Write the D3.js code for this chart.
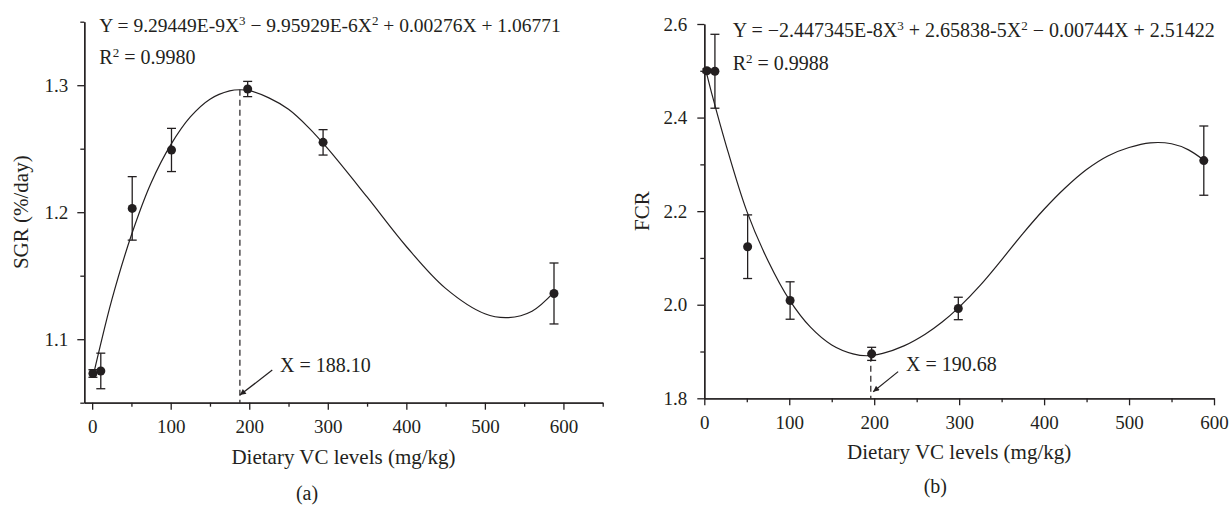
<!DOCTYPE html>
<html lang="en">
<head>
<meta charset="UTF-8">
<title>SGR and FCR vs dietary VC levels</title>
<script src="https://d3js.org/d3.v7.min.js"></script>
<style>
  body { margin: 0; background: #fff; }
  svg text { font-family: "Liberation Serif", "Times New Roman", serif; fill: #231f20; }
</style>
</head>
<body>
<svg id="chart" width="1230" height="506"></svg>
<script>
// panel (a) - SGR
const sgrLevels = [1, 11, 51, 101, 198, 294, 588];
const sgrMeans  = [1.073, 1.075, 1.203, 1.249, 1.297, 1.255, 1.136];
const sgrErrors = [0.003, 0.014, 0.025, 0.017, 0.006, 0.010, 0.024];
// fitted line
const sgrFitX = [2, 5, 10, 25, 50, 75, 100, 125, 150, 175, 188, 200, 225, 250, 275, 300, 350, 400, 450, 500, 530, 560, 588];
const sgrFitY = [1.073, 1.081, 1.094, 1.131, 1.182, 1.223, 1.253, 1.275, 1.289, 1.2955, 1.2964, 1.2957, 1.290, 1.281, 1.267, 1.250, 1.212, 1.173, 1.140, 1.120, 1.117, 1.122, 1.137];
const sgrTicksY = [1.1, 1.2, 1.3];
const sgrMinorY = [1.05, 1.15, 1.25, 1.35];

// panel (b) - FCR
const fcrLevels = [3, 12.5, 51, 101, 197, 299, 588];
const fcrMeans  = [2.500, 2.499, 2.124, 2.009, 1.895, 1.992, 2.308];
const fcrErrors = [0.004, 0.079, 0.068, 0.040, 0.014, 0.024, 0.074];
const fcrFitX = [2, 10, 25, 50, 75, 100, 125, 150, 175, 192, 210, 235, 260, 280, 300, 325, 350, 375, 400, 425, 450, 475, 500, 525, 550, 570, 588];
const fcrFitY = [2.500, 2.443, 2.345, 2.200, 2.094, 2.011, 1.952, 1.914, 1.895, 1.891, 1.896, 1.912, 1.937, 1.963, 1.995, 2.042, 2.096, 2.152, 2.204, 2.250, 2.289, 2.318, 2.336, 2.346, 2.344, 2.331, 2.309];
const fcrTicksY = [1.8, 2.0, 2.2, 2.4, 2.6];
const fcrMinorY = [1.9, 2.1, 2.3, 2.5];

const xTicks = [0, 100, 200, 300, 400, 500, 600];
const xMinor = [50, 150, 250, 350, 450, 550, 650];

const ink = "#231f20";
const serif = '"Liberation Serif", "Times New Roman", serif';
const svg = d3.select("#chart");

svg.append("defs").append("marker")
    .attr("id", "arrow")
    .attr("viewBox", "0 0 10 10")
    .attr("refX", 10).attr("refY", 5)
    .attr("markerUnits", "userSpaceOnUse")
    .attr("markerWidth", 8).attr("markerHeight", 6)
    .attr("orient", "auto")
  .append("path")
    .attr("d", "M0,0L10,5L0,10z")
    .attr("fill", ink);

function drawPanel(p) {
    const x = d3.scaleLinear().domain(p.xDomain).range(p.xRange);
    const y = d3.scaleLinear().domain(p.yDomain).range(p.yRange);
    const g = svg.append("g");
    const bottom = p.yRange[0];
    const left = p.xRange[0];

    // axes
    const xAxis = g.append("g").attr("transform", `translate(0,${bottom})`)
        .call(d3.axisBottom(x).tickValues(xTicks.filter(v => v <= p.xDomain[1]))
            .tickSize(7).tickSizeOuter(0).tickFormat(d3.format("d")));
    xAxis.selectAll("text").attr("y", 30.5).attr("dy", 0);
    g.append("g").attr("transform", `translate(0,${bottom})`)
        .call(d3.axisBottom(x).tickValues(xMinor.filter(v => v <= p.xDomain[1]))
            .tickSize(4).tickSizeOuter(0).tickFormat(""));

    g.append("g").attr("transform", `translate(${left},0)`)
        .call(d3.axisLeft(y).tickValues(p.yTicks).tickSize(7).tickSizeOuter(0)
            .tickPadding(p.yPad).tickFormat(d3.format(".1f")));
    g.append("g").attr("transform", `translate(${left},0)`)
        .call(d3.axisLeft(y).tickValues(p.yMinor).tickSize(4).tickSizeOuter(0).tickFormat(""));

    g.selectAll("g").attr("font-family", null).attr("font-size", null);
    g.selectAll(".tick text").style("font-family", serif).style("font-size", "19px").attr("fill", ink);
    g.selectAll(".domain, .tick line").attr("stroke", ink).attr("stroke-width", 1.3);

    // fitted curve
    const fit = d3.zip(p.fitX, p.fitY);
    g.append("path")
        .datum(fit)
        .attr("fill", "none")
        .attr("stroke", ink)
        .attr("stroke-width", 1.2)
        .attr("d", d3.line().x(d => x(d[0])).y(d => y(d[1])).curve(d3.curveCatmullRom.alpha(0.5)));

    // dashed line at the optimum
    g.append("line")
        .attr("x1", x(p.optX)).attr("x2", x(p.optX))
        .attr("y1", y(p.optY)).attr("y2", bottom)
        .attr("stroke", ink).attr("stroke-width", 1.2)
        .attr("stroke-dasharray", "6,4");

    g.append("line")
        .attr("x1", x(p.arrow[0])).attr("y1", y(p.arrow[1]))
        .attr("x2", x(p.arrow[2])).attr("y2", y(p.arrow[3]))
        .attr("stroke", ink).attr("stroke-width", 1.2)
        .attr("marker-end", "url(#arrow)");

    g.append("text")
        .attr("x", p.optLabelPos[0]).attr("y", p.optLabelPos[1])
        .style("font-size", "20px")
        .text(p.optLabel);

    // error bars and points
    const pts = d3.zip(p.levels, p.means, p.errors);
    const eb = g.append("g").attr("stroke", ink).attr("stroke-width", 1.3);
    pts.forEach(([lv, m, e]) => {
        const cx = x(lv);
        eb.append("line").attr("x1", cx).attr("x2", cx).attr("y1", y(m - e)).attr("y2", y(m + e));
        eb.append("line").attr("x1", cx - 4.5).attr("x2", cx + 4.5).attr("y1", y(m + e)).attr("y2", y(m + e));
        eb.append("line").attr("x1", cx - 4.5).attr("x2", cx + 4.5).attr("y1", y(m - e)).attr("y2", y(m - e));
    });
    g.selectAll("circle.pt").data(pts).join("circle")
        .attr("class", "pt")
        .attr("cx", d => x(d[0])).attr("cy", d => y(d[1]))
        .attr("r", 4.5).attr("fill", ink);

    // titles
    g.append("text")
        .attr("x", (p.xRange[0] + p.xRange[1]) / 2).attr("y", p.xTitleY)
        .attr("text-anchor", "middle").style("font-size", "21px")
        .text("Dietary VC levels (mg/kg)");
    g.append("text")
        .attr("transform", `translate(${p.yTitleX},${(p.yRange[0] + p.yRange[1]) / 2}) rotate(-90)`)
        .attr("text-anchor", "middle").style("font-size", "21px")
        .text(p.yTitle);
    g.append("text")
        .attr("x", p.tag[0]).attr("y", p.tag[1])
        .attr("text-anchor", "middle").style("font-size", "20px")
        .text(p.tag[2]);

    // equation and R2
    const eq = g.append("text").attr("x", p.eqPos[0]).attr("y", p.eqPos[1]).style("font-size", p.eqSize + "px");
    let raised = false;
    p.equation.forEach(part => {
        if (part.sup) {
            eq.append("tspan").attr("dy", -7).style("font-size", "13px").text(part.sup);
            raised = true;
        } else {
            eq.append("tspan").attr("dy", raised ? 7 : null).text(part.t);
            raised = false;
        }
    });
    const r2 = g.append("text").attr("x", p.eqPos[0]).attr("y", p.r2Y).style("font-size", "20px");
    r2.append("tspan").text("R");
    r2.append("tspan").attr("dy", -7).style("font-size", "13px").text("2");
    r2.append("tspan").attr("dy", 7).text(" = " + p.r2);
}

drawPanel({
    xDomain: [-10, 650], xRange: [84.3, 602.7],
    yDomain: [1.05, 1.35], yRange: [402.7, 21.7],
    yTicks: sgrTicksY, yMinor: sgrMinorY, yPad: 9,
    levels: sgrLevels, means: sgrMeans, errors: sgrErrors,
    fitX: sgrFitX, fitY: sgrFitY,
    optX: 188.1, optY: 1.2964,
    arrow: [229.3, 1.0757, 188.1, 1.056],
    optLabel: "X = 188.10", optLabelPos: [280, 372],
    xTitleY: 463.5, yTitle: "SGR (%/day)", yTitleX: 27.5,
    tag: [307, 500, "(a)"],
    eqPos: [99.3, 31.5], r2Y: 64, eqSize: 19.5,
    equation: [{t: "Y = 9.29449E-9X"}, {sup: "3"}, {t: " \u2212 9.95929E-6X"}, {sup: "2"}, {t: " + 0.00276X + 1.06771"}],
    r2: "0.9980"
});

drawPanel({
    xDomain: [0, 600], xRange: [704.3, 1214],
    yDomain: [1.8, 2.6], yRange: [398.3, 24],
    yTicks: fcrTicksY, yMinor: fcrMinorY, yPad: 10,
    levels: fcrLevels, means: fcrMeans, errors: fcrErrors,
    fitX: fcrFitX, fitY: fcrFitY,
    optX: 196, optY: 1.891,
    arrow: [228.2, 1.857, 198.8, 1.814],
    optLabel: "X = 190.68", optLabelPos: [906, 371],
    xTitleY: 459, yTitle: "FCR", yTitleX: 649,
    tag: [935.3, 492.5, "(b)"],
    eqPos: [732.7, 37], r2Y: 70, eqSize: 20,
    equation: [{t: "Y = \u22122.447345E-8X"}, {sup: "3"}, {t: " + 2.65838-5X"}, {sup: "2"}, {t: " \u2212 0.00744X + 2.51422"}],
    r2: "0.9988"
});
</script>
</body>
</html>
